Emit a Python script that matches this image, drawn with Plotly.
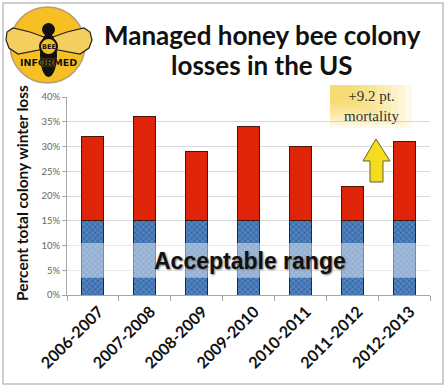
import plotly.graph_objects as go

# ---------------- data ----------------
seasons = ["2006-2007", "2007-2008", "2008-2009", "2009-2010",
           "2010-2011", "2011-2012", "2012-2013"]
total_loss_pct = [32.0, 36.0, 29.0, 34.0, 30.0, 22.0, 31.0]
acceptable_pct = [15.0, 15.0, 15.0, 15.0, 15.0, 15.0, 15.0]
excess_pct = [t - a for t, a in zip(total_loss_pct, acceptable_pct)]
y_ticks = [0, 5, 10, 15, 20, 25, 30, 35, 40]
y_tick_labels = [f"{v}%" for v in y_ticks]
band_low, band_high = 3.5, 10.5
title_lines = ["Managed honey bee colony", "losses in the US"]
callout_text = "+9.2 pt.<br>mortality"

# ---------------- layout geometry (pixels) ----------------
W, H = 447, 387
L, R, T, B = 67, 17, 97, 92
PW, PH = W - L - R, H - T - B


def px(x):
    return (x - L) / PW


def py(y):
    return (H - B - y) / PH


def path(points):
    s = "M " + " L ".join(f"{px(x):.4f},{py(y):.4f}" for x, y in points)
    return s + " Z"


fig = go.Figure()
fig.add_trace(go.Bar(
    x=seasons, y=acceptable_pct, name="acceptable",
    marker=dict(color="#4a7ebb",
                line=dict(color="#1a2a40", width=1),
                pattern=dict(shape="x", fgcolor="#1d3a66", bgcolor="#4f83c2",
                             size=4, solidity=0.35)),
    hoverinfo="skip", showlegend=False))
fig.add_trace(go.Bar(
    x=seasons, y=excess_pct, name="excess",
    marker=dict(color="#e0240a", line=dict(color="#4a1408", width=1)),
    hoverinfo="skip", showlegend=False))

shapes = []
# outer frame
shapes.append(dict(type="rect", xref="paper", yref="paper",
                   x0=px(3), x1=px(443), y0=py(384), y1=py(3),
                   line=dict(color="#c0c0c0", width=1.5), layer="below"))
# acceptable range band
shapes.append(dict(type="rect", xref="paper", yref="y", x0=0, x1=1,
                   y0=band_low, y1=band_high,
                   fillcolor="rgba(255,255,255,0.45)", line=dict(width=0),
                   layer="above"))
# callout gradient box (layered)
for k in range(10):
    x1 = 412 - k * 7
    y1 = 128 - k * 3
    shapes.append(dict(type="rect", xref="paper", yref="paper",
                       x0=px(330), x1=px(x1), y0=py(y1), y1=py(85),
                       fillcolor="rgba(246,208,50,0.10)", line=dict(width=0),
                       layer="above"))
# arrow
shapes.append(dict(type="path", xref="paper", yref="paper",
                   path=path([(376, 139), (390, 161), (383, 161), (383, 182),
                              (370, 182), (370, 161), (363, 161)]),
                   fillcolor="#f5dc1e", line=dict(color="#6a6030", width=1),
                   layer="above"))
# logo
shapes.append(dict(type="circle", xref="paper", yref="paper",
                   x0=px(10), x1=px(85), y0=py(83), y1=py(7),
                   fillcolor="#f6c024", line=dict(color="#b8a070", width=1.5)))
shapes.append(dict(type="path", xref="paper", yref="paper",
                   path=path([(44, 37), (30, 32), (13, 28), (7, 32), (6, 40),
                              (9, 48), (18, 54), (44, 49)]),
                   fillcolor="#f4cf60", line=dict(color="#222", width=1.2)))
shapes.append(dict(type="path", xref="paper", yref="paper",
                   path=path([(53, 37), (67, 32), (84, 28), (90, 32), (92, 40),
                              (89, 48), (80, 54), (53, 49)]),
                   fillcolor="#f4cf60", line=dict(color="#222", width=1.2)))
shapes.append(dict(type="circle", xref="paper", yref="paper",
                   x0=px(42), x1=px(55), y0=py(36), y1=py(23),
                   fillcolor="#111", line=dict(width=0)))
shapes.append(dict(type="circle", xref="paper", yref="paper",
                   x0=px(40), x1=px(57), y0=py(77), y1=py(33),
                   fillcolor="#111", line=dict(width=0)))
shapes.append(dict(type="circle", xref="paper", yref="paper",
                   x0=px(40), x1=px(57), y0=py(55), y1=py(38),
                   fillcolor="#f6c024", line=dict(color="#111", width=2)))

annotations = []


def note(x, y, text, font, yref="paper", **kw):
    annotations.append(dict(xref="paper", yref=yref, x=x, y=y, text=text,
                            showarrow=False, xanchor="center", yanchor="middle",
                            font=font, **kw))


note(px(48.5), py(46.5), "<b>BEE</b>",
     dict(family="DejaVu Sans", size=6.5, color="#111"))
note(px(48.5), py(62), "<b>INFORMED</b>",
     dict(family="DejaVu Sans", size=9.5, color="#111", shadow="0px 0px 2px #f6c024"))
for i, line in enumerate(title_lines):
    note(px(262), py(35 + 30 * i), line,
         dict(family="Lato", size=26, color="#111", weight="bold"))
note(px(22), py(193), "<b>Percent total colony winter loss</b>",
     dict(family="Lato", size=15.5, color="#111"), textangle=-90)
note(px(250), 6.8, "<b>Acceptable range</b>",
     dict(family="Liberation Sans", size=23, color="#111", shadow="1px 1px 2px #777"),
     yref="y")
note(px(371), py(106), callout_text,
     dict(family="Liberation Serif", size=15, color="#333"))

fig.update_layout(
    width=W, height=H,
    margin=dict(l=L, r=R, t=T, b=B, pad=0),
    paper_bgcolor="white", plot_bgcolor="white",
    barmode="stack", bargap=0.576,
    shapes=shapes, annotations=annotations,
    xaxis=dict(type="category", showline=True, linecolor="#a6a6a6", linewidth=1,
               ticks="outside", tickson="boundaries", ticklen=5, tickcolor="#a6a6a6",
               tickangle=-45, ticklabelshift=6, automargin=False,
               tickfont=dict(family="Lato", size=16, color="#111", weight="bold"),
               showgrid=False),
    yaxis=dict(range=[0, 40], tickvals=y_ticks, ticktext=y_tick_labels,
               showline=True, linecolor="#a6a6a6", linewidth=1, automargin=False,
               ticks="outside", ticklen=4, tickcolor="#a6a6a6",
               tickfont=dict(family="Lato", size=9.5, color="#666"),
               showgrid=True, gridcolor="#d9d9d9", gridwidth=1, zeroline=False),
)

fig.write_html("out.html", config={"displayModeBar": False},
               post_script="document.body.style.margin='0';document.body.style.padding='0';")
